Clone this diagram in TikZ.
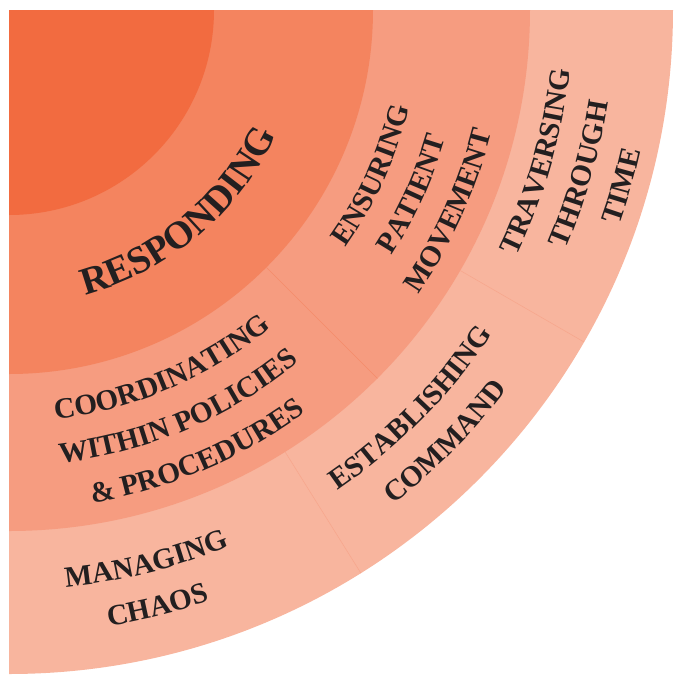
\documentclass[tikz,border=0pt]{standalone}
\usepackage{fontspec}
\setmainfont{Liberation Serif}
\usepackage{xcolor}
\usepackage{tikz}
\usetikzlibrary{decorations.text}

\definecolor{core}{HTML}{F26B40}
\definecolor{ringtwo}{HTML}{F4845F}
\definecolor{ringthree}{HTML}{F69C80}
\definecolor{ringfour}{HTML}{F8B59E}
\definecolor{inktext}{HTML}{231F20}

\newcommand\bandfont{\fontsize{22}{26}\selectfont\bfseries}
\newcommand\bigbandfont{\fontsize{29}{34}\selectfont\bfseries}

% #1 radius, #2 middle angle, #3 font, #4 words
\newcommand\arctext[4]{%
  \path[decorate,decoration={text along path,text align=center,
    text color=inktext,text={|#3|#4}}]
    (#2-40:#1) arc[start angle=#2-40,end angle=#2+40,radius=#1];}

\begin{document}
\begin{tikzpicture}[x=0.75pt,y=0.75pt]
\tikzset{divider/.style={line width=0.4pt}}
\useasboundingbox (-9,10) rectangle (665,-666);
\coordinate (ctr) at (0,0);

\fill[ringfour] (ctr) -- (0:664) arc[start angle=0,end angle=-90,radius=664] -- cycle;
\fill[ringthree] (ctr) -- (0:521) arc[start angle=0,end angle=-90,radius=521] -- cycle;
\fill[ringtwo] (ctr) -- (0:364) arc[start angle=0,end angle=-90,radius=364] -- cycle;
\fill[core] (ctr) -- (0:205) arc[start angle=0,end angle=-90,radius=205] -- cycle;

\draw[divider,draw=ringtwo!70!ringthree] (-45:364) -- (-45:521);
\draw[divider,draw=ringthree!60!ringfour] (-30:521) -- (-30:664);
\draw[divider,draw=ringthree!60!ringfour] (-58:521) -- (-58:664);

\arctext{295}{-50}{\bigbandfont}{RESPONDING}

\arctext{412}{-67}{\bandfont}{COORDINATING}
\arctext{456}{-67}{\bandfont}{WITHIN POLICIES}
\arctext{500}{-67}{\bandfont}{{\&} PROCEDURES}

\arctext{412}{-24.5}{\bandfont}{ENSURING}
\arctext{455}{-24.5}{\bandfont}{PATIENT}
\arctext{498}{-24.5}{\bandfont}{MOVEMENT}

\arctext{564}{-16}{\bandfont}{TRAVERSING}
\arctext{606}{-16}{\bandfont}{THROUGH}
\arctext{647}{-16}{\bandfont}{TIME}

\arctext{582}{-44.7}{\bandfont}{ESTABLISHING}
\arctext{626}{-44.7}{\bandfont}{COMMAND}

\arctext{580}{-76}{\bandfont}{MANAGING}
\arctext{624}{-76}{\bandfont}{CHAOS}
\end{tikzpicture}
\end{document}
